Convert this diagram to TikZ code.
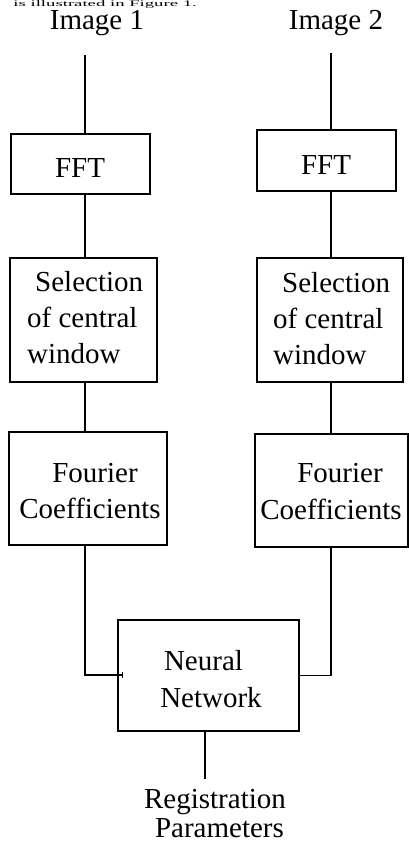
\documentclass[tikz,border=0pt]{standalone}
\usepackage{fontspec}
\setmainfont{Liberation Serif}
\usetikzlibrary{arrows.meta}
\begin{document}
\begin{tikzpicture}[x=1pt,y=-1pt,
  box/.style={draw,line width=1.5pt,inner sep=0pt,outer sep=0pt,anchor=north west},
  lbl/.style={font=\fontsize{29}{29}\selectfont,inner sep=0pt,anchor=base},
  lblw/.style={lbl,anchor=base west},
  wire/.style={line width=1.5pt}]
\useasboundingbox (0,0) rectangle (409,848);
\fill[white] (0,0) rectangle (409,848);
% text fragment at the top
\node[font=\fontsize{8.5}{8.5}\selectfont,inner sep=0pt,anchor=base east] (frag) at (197,6.6) {\scalebox{2.2}[1]{is illustrated in Figure 1.}};
% boxes
\node[box,minimum width=139pt,minimum height=60pt] (fft1) at (11,134) {};
\node[box,minimum width=147pt,minimum height=124pt] (sel1) at (10,258) {};
\node[box,minimum width=158pt,minimum height=113pt] (four1) at (9,432) {};
\node[box,minimum width=139pt,minimum height=61pt] (fft2) at (257,130) {};
\node[box,minimum width=146pt,minimum height=124pt] (sel2) at (257,258) {};
\node[box,minimum width=153pt,minimum height=113pt] (four2) at (255,434) {};
\node[box,minimum width=181pt,minimum height=111pt] (nn) at (118,620) {};
% texts
\node[lbl] (img1) at (97,30) {Image 1};
\node[lbl] (img2) at (336,30) {Image 2};
\node[lbl] (ffttxt1) at (80,177) {FFT};
\node[lbl] (ffttxt2) at (326,174) {FFT};
\node[lblw] (sela1) at (35,291) {Selection};
\node[lblw] (selb1) at (27,327) {of central};
\node[lblw] (selc1) at (27,363) {window};
\node[lblw] (sela2) at (282,292) {Selection};
\node[lblw] (selb2) at (273,328) {of central};
\node[lblw] (selc2) at (273,364) {window};
\node[lbl] (foura1) at (95,482) {Fourier};
\node[lbl] (fourb1) at (90,518) {Coefficients};
\node[lbl] (foura2) at (340,482) {Fourier};
\node[lbl] (fourb2) at (331,519) {Coefficients};
\node[lbl] (nna) at (203.5,670) {Neural};
\node[lbl] (nnb) at (211,707) {Network};
\node[lbl] (rega) at (215,808) {Registration};
\node[lbl] (regb) at (219.5,837) {Parameters};
% connectors
\coordinate (c1) at (85,55);
\coordinate (c2) at (331,53);
\coordinate (c3) at (205,779);
\coordinate (nnL) at (123,675);
\draw[wire] (c1) -- (c1 |- fft1.north);
\draw[wire] (fft1.south -| c1) -- (sel1.north -| c1);
\draw[wire] (sel1.south -| c1) -- (four1.north -| c1);
\draw[wire,-{Bar[width=6pt,line width=1.2pt]}] (four1.south -| c1) |- (nnL);
\draw[wire] (c2) -- (c2 |- fft2.north);
\draw[wire] (fft2.south -| c2) -- (sel2.north -| c2);
\draw[wire] (sel2.south -| c2) -- (four2.north -| c2);
\draw[wire] (four2.south -| c2) |- (nn.east);
\draw[wire] (nn.south -| c3) -- (c3);
\end{tikzpicture}
\end{document}
